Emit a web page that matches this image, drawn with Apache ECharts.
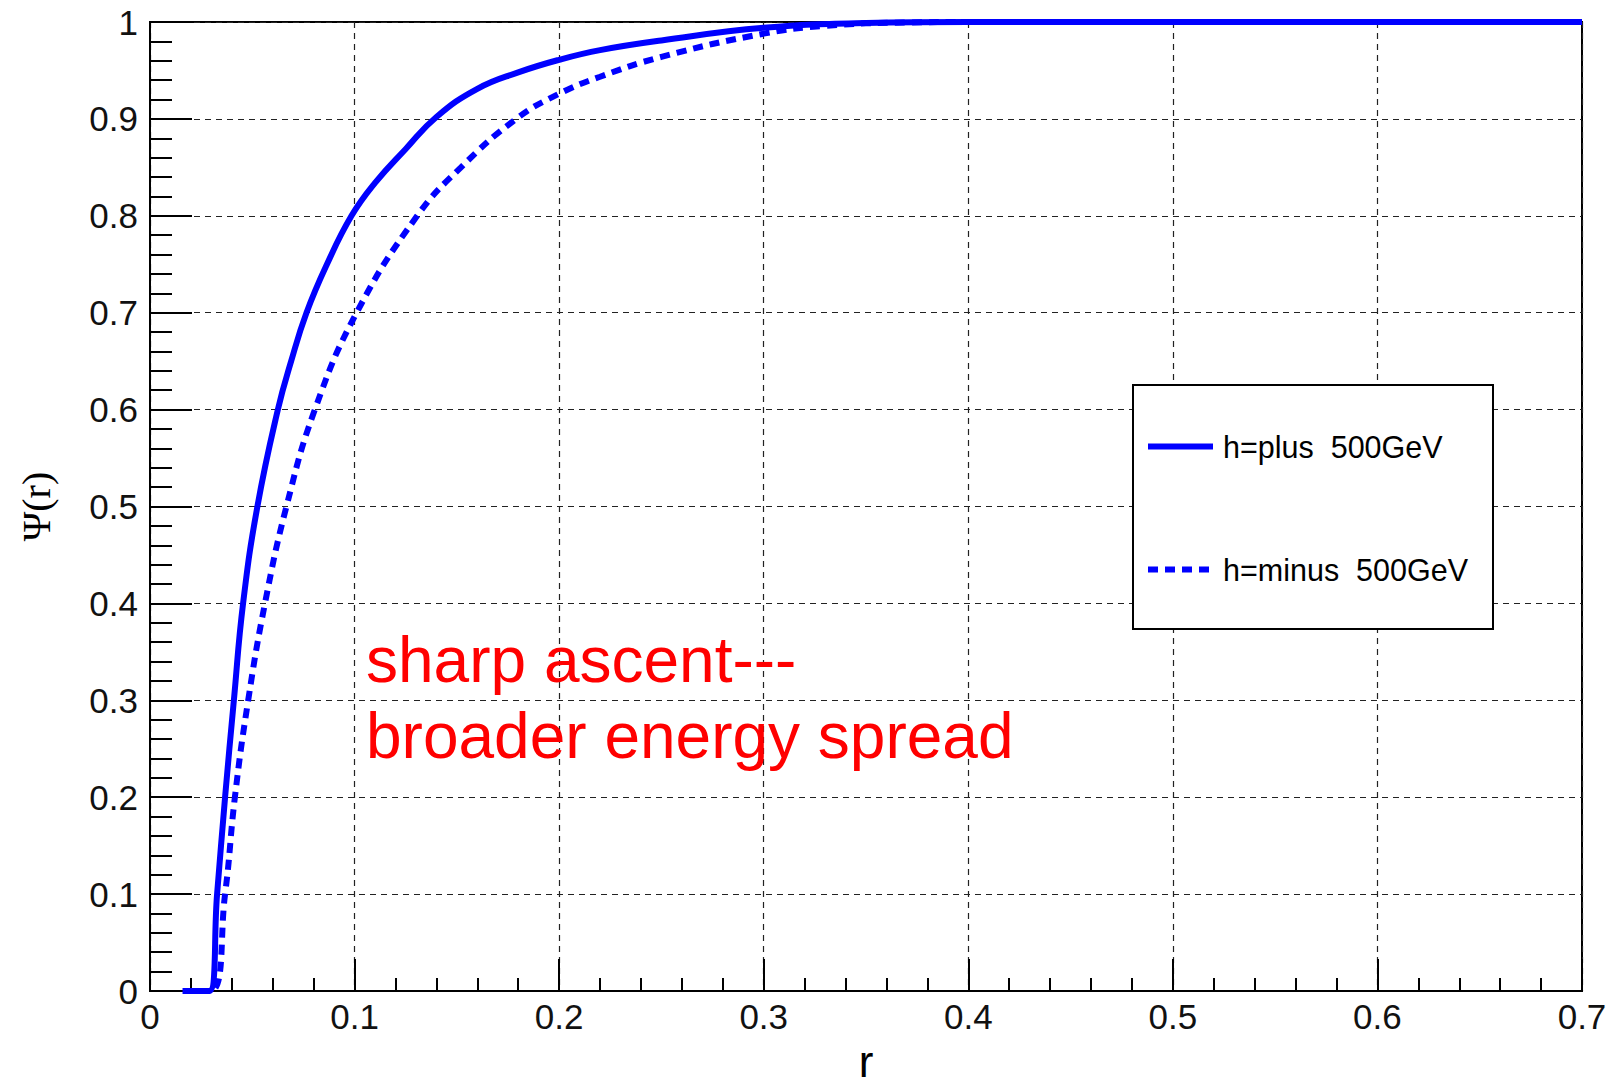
<!DOCTYPE html>
<html>
<head>
<meta charset="utf-8">
<title>Psi(r)</title>
<script src="https://cdn.jsdelivr.net/npm/echarts@6/dist/echarts.min.js"></script>
<style>
  html, body { margin: 0; padding: 0; background: #fff; }
  #main { width: 1624px; height: 1084px; }
</style>
</head>
<body>
<div id="main"></div>
<script>
// h=plus 500GeV (solid)
var rPlus = [0.016, 0.029, 0.0328, 0.0367, 0.041, 0.0455, 0.0525, 0.0625, 0.069, 0.0765, 0.0865, 0.0985, 0.11, 0.125, 0.14, 0.16, 0.18, 0.2, 0.22, 0.25, 0.3, 0.35, 0.4, 0.5, 0.6, 0.7];
var psiPlus = [0, 0, 0.1, 0.2, 0.3, 0.4, 0.5, 0.6, 0.65, 0.7, 0.75, 0.8, 0.834, 0.869, 0.902, 0.931, 0.948, 0.961, 0.971, 0.981, 0.994, 0.999, 1, 1, 1, 1];
// h=minus 500GeV (dashed)
var rMinus = [0.016, 0.0295, 0.0367, 0.0415, 0.048, 0.0562, 0.0667, 0.0806, 0.101, 0.1306, 0.152, 0.179, 0.2, 0.22, 0.25, 0.3, 0.33, 0.37, 0.4, 0.5, 0.6, 0.7];
var psiMinus = [0, 0, 0.1, 0.2, 0.3, 0.4, 0.5, 0.6, 0.7, 0.8, 0.85, 0.9, 0.926, 0.9435, 0.964, 0.988, 0.996, 0.9995, 1, 1, 1, 1];

var seriesNames = ['h=plus  500GeV', 'h=minus  500GeV'];
var note = 'sharp ascent---\nbroader energy spread';

function pairs(xs, ys) {
  var out = [];
  for (var i = 0; i < xs.length; i++) out.push([xs[i], ys[i]]);
  return out;
}

var chart = echarts.init(document.getElementById('main'), null, { renderer: 'svg' });

var sans = 'Liberation Sans';
var gridLine = { show: true, lineStyle: { color: '#222', width: 1.2, type: [6, 5] } };

var option = {
  backgroundColor: '#fff',
  animation: false,
  grid: {
    left: 150, right: 42, top: 22, bottom: 93,
    outerBoundsMode: 'none',
    containLabel: false,
    show: true, borderColor: '#000', borderWidth: 2, backgroundColor: 'transparent'
  },
  legend: {
    orient: 'vertical',
    left: 1133,
    top: 385,
    padding: [46, 25, 44, 12],
    itemGap: 92,
    itemWidth: 65,
    itemHeight: 10,
    backgroundColor: '#fff',
    borderColor: '#000',
    borderWidth: 2,
    borderRadius: 0,
    lineStyle: { width: 6 },
    itemStyle: { opacity: 0 },
    textStyle: { fontFamily: sans, fontSize: 30.5, color: '#000', lineHeight: 30, padding: [0, 0, 0, 5] },
    data: seriesNames
  },
  xAxis: {
    type: 'value',
    min: 0,
    max: 0.7,
    interval: 0.1,
    name: 'r',
    nameLocation: 'middle',
    nameGap: 50,
    nameTextStyle: { fontFamily: sans, fontSize: 44, lineHeight: 40, color: '#000' },
    axisLine: { show: true, lineStyle: { color: '#000', width: 2 } },
    axisTick: { show: true, inside: true, length: 32, lineStyle: { color: '#000', width: 2 } },
    minorTick: { show: true, splitNumber: 5, length: 13, lineStyle: { color: '#000', width: 2 } },
    axisLabel: { fontFamily: sans, fontSize: 35, color: '#111', margin: 8 },
    splitLine: gridLine
  },
  yAxis: {
    type: 'value',
    min: 0,
    max: 1,
    interval: 0.1,
    name: '\u03A8(r)',
    nameLocation: 'middle',
    nameRotate: 90,
    nameGap: 94,
    nameTextStyle: { fontFamily: 'Liberation Serif', fontSize: 40, color: '#000' },
    axisLine: { show: true, lineStyle: { color: '#000', width: 2 } },
    axisTick: { show: true, inside: true, length: 42, lineStyle: { color: '#000', width: 2 } },
    minorTick: { show: true, splitNumber: 5, length: 22, lineStyle: { color: '#000', width: 2 } },
    axisLabel: { fontFamily: sans, fontSize: 35, color: '#111', margin: 12 },
    splitLine: gridLine
  },
  series: [
    {
      name: seriesNames[0],
      type: 'line',
      data: pairs(rPlus, psiPlus),
      symbol: 'none',
      smooth: 0.45,
      clip: false,
      z: 3,
      lineStyle: { color: '#0000ff', width: 6 },
      itemStyle: { color: '#0000ff' }
    },
    {
      name: seriesNames[1],
      type: 'line',
      data: pairs(rMinus, psiMinus),
      symbol: 'none',
      smooth: 0.45,
      clip: false,
      z: 2,
      lineStyle: { color: '#0000ff', width: 6, type: [10, 7] },
      itemStyle: { color: '#0000ff' }
    }
  ],
  graphic: [
    {
      type: 'text',
      x: 366,
      y: 698,
      z: 10,
      style: {
        text: note,
        fill: '#ff0000',
        font: '64px "Liberation Sans"',
        lineHeight: 76,
        align: 'left',
        verticalAlign: 'middle'
      }
    }
  ]
};

chart.setOption(option);
</script>
</body>
</html>
